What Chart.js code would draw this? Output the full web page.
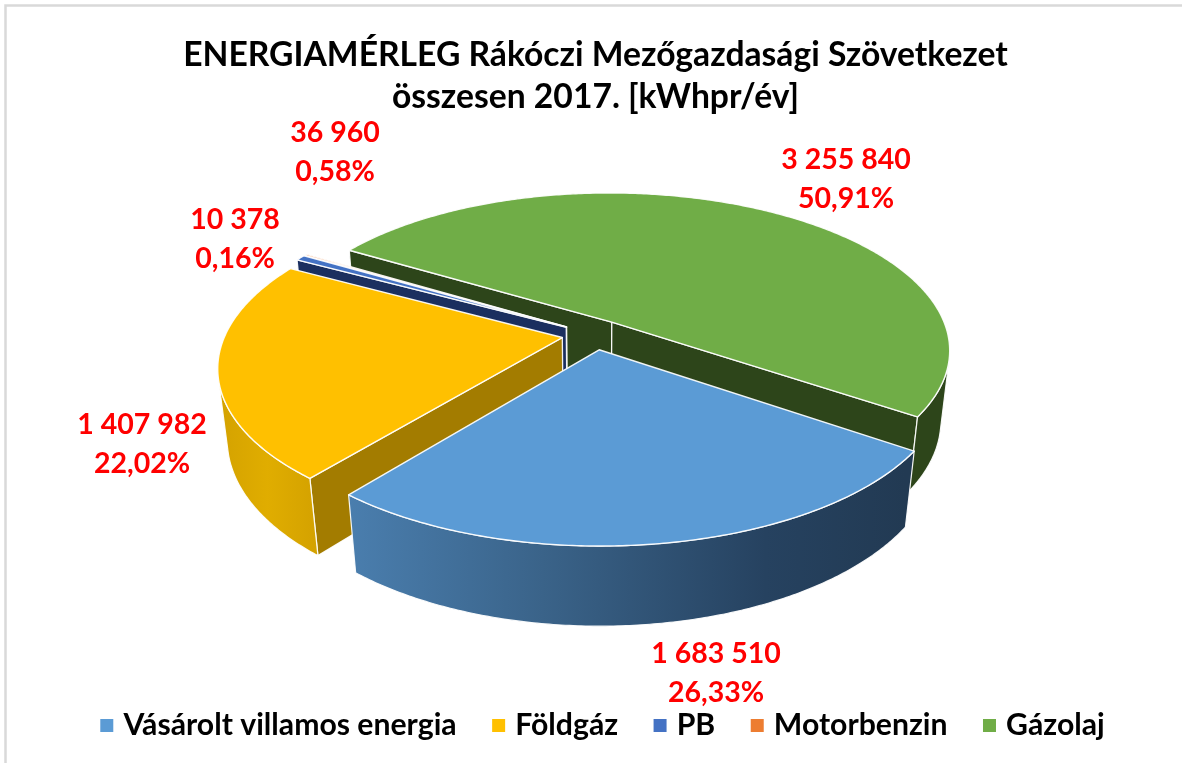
<!DOCTYPE html>
<html><head><meta charset="utf-8">
<style>html,body{margin:0;padding:0;background:#fff}#wrap{width:1182px;height:763px}</style>
<script src="https://cdn.jsdelivr.net/npm/chart.js@4"></script>
</head><body><div id="wrap"><canvas id="c" width="1182" height="763"></canvas></div>
<script>
const categories = ['Vásárolt villamos energia','Földgáz','PB','Motorbenzin','Gázolaj'];
const values = [1683510,1407982,36960,10378,3255840];
const percentLabels = ['26,33%','22,02%','0,58%','0,16%','50,91%'];
const titleLines = ['ENERGIAMÉRLEG Rákóczi Mezőgazdasági Szövetkezet','összesen 2017. [kWhpr/év]'];
const topColors = ['#5b9bd5','#ffc000','#4472c4','#ed7d31','#70ad47'];
const cutColors = ['#274059','#a37c00','#1b2f5f','#8f4b1d','#2d451a'];
const labelSpots = [[716,654],[142,425],[335,133],[235,220],[846,160]];

const view = {cx:594.4, cy:334.6, R:337, H:155.85, p:0.1755, q:0.025, D:72};
function proj(u,v,z){
  const w = 1 - view.p*v + view.q*z;
  return [view.cx + view.R*u/w, view.cy + (view.H*v + view.D*z)/w];
}
function sliceGeom(el){
  const mid=(el.startAngle+el.endAngle)/2, e=(el.options.offset||0)/el.outerRadius;
  const ox=Math.cos(mid)*e, oy=Math.sin(mid)*e;
  const arc=(z,a0,a1)=>{const n=Math.max(2,Math.ceil(Math.abs(a1-a0)/0.01)),o=[];
    for(let i=0;i<=n;i++){const t=a0+(a1-a0)*i/n;o.push(proj(ox+Math.cos(t),oy+Math.sin(t),z));}return o;};
  return {ox,oy,mid,arc,apexT:proj(ox,oy,0),apexB:proj(ox,oy,1)};
}
function poly(ctx,pts,fill,stroke,lw){
  ctx.beginPath();pts.forEach((p,i)=>i?ctx.lineTo(p[0],p[1]):ctx.moveTo(p[0],p[1]));ctx.closePath();
  ctx.fillStyle=fill;ctx.fill();
  if(stroke){ctx.strokeStyle=stroke;ctx.lineWidth=lw;ctx.lineJoin='round';ctx.stroke();}
}
function side(a,b,p){return (b[0]-a[0])*(p[1]-a[1])-(b[1]-a[1])*(p[0]-a[0]);}
function wallFill(ctx,i){
  if(i===0){const g=ctx.createLinearGradient(348,0,905,0);
    g.addColorStop(0,'#4a7eae');g.addColorStop(0.35,'#3a6389');g.addColorStop(0.75,'#264260');g.addColorStop(1,'#223a53');return g;}
  if(i===1){const g=ctx.createLinearGradient(219,0,316,0);
    g.addColorStop(0,'#d4a200');g.addColorStop(0.5,'#e0ad00');g.addColorStop(1,'#d4a200');return g;}
  return cutColors[i];
}
const pie3d = {
  id:'pie3d',
  afterLayout(chart){ chart.legend.left+=9.5; chart.legend.right+=9.5; },
  beforeDraw(chart){
    const c=chart.ctx;c.save();c.strokeStyle='#d9d9d9';c.lineWidth=2.5;
    c.beginPath();c.moveTo(1182,5.5);c.lineTo(5.5,5.5);c.lineTo(5.5,763);c.stroke();c.restore();
  },
  beforeDatasetsDraw(chart){
    const c=chart.ctx, els=chart.getDatasetMeta(0).data;
    c.save();
    [4,3,2,1,0].forEach(i=>{
      const el=els[i], g=sliceGeom(el), a0=el.startAngle, a1=el.endAngle;
      const topArc=g.arc(0,a0,a1), botArc=g.arc(1,a0,a1);
      const white='rgba(255,255,255,0.92)';
      const inner=proj(g.ox+Math.cos(g.mid)*0.5,g.oy+Math.sin(g.mid)*0.5,0);
      [[topArc[0],botArc[0]],[topArc[topArc.length-1],botArc[botArc.length-1]]].forEach(([t,b])=>{
        const visible=side(g.apexT,t,inner)*side(g.apexT,t,g.apexB)<0;
        if(visible) poly(c,[g.apexT,t,b,g.apexB],cutColors[i],white,1.3);
      });
      // outer wall: only the part of the rim that faces the viewer
      const wt=[],wb=[];
      for(let k=0;k<topArc.length;k++){
        const n=topArc[Math.min(k+1,topArc.length-1)], m=topArc[Math.max(k-1,0)];
        const tx=n[0]-m[0], ty=n[1]-m[1], ex=botArc[k][0]-topArc[k][0], ey=botArc[k][1]-topArc[k][1];
        if(tx*ey-ty*ex<0){wt.push(topArc[k]);wb.push(botArc[k]);}
      }
      if(wt.length>1) poly(c,wt.concat(wb.reverse()),wallFill(c,i),white,1.2);
      poly(c,[g.apexT].concat(topArc),topColors[i],white,1.4);
    });
    c.restore();
    return false;
  },
  afterDraw(chart){
    const c=chart.ctx;c.save();
    c.font='bold 28.5px Lato, Carlito, sans-serif';c.fillStyle='#ff0000';c.textAlign='center';c.textBaseline='middle';
    values.forEach((v,i)=>{
      const txt=String(v).replace(/\B(?=(\d{3})+$)/g,' ');
      c.fillText(txt,labelSpots[i][0],labelSpots[i][1]);
      c.fillText(percentLabels[i],labelSpots[i][0],labelSpots[i][1]+38.5);
    });
    c.restore();
  }
};
new Chart(document.getElementById('c'),{
  type:'pie',
  data:{labels:categories,datasets:[{data:values,backgroundColor:topColors,offset:25,borderWidth:0}]},
  plugins:[pie3d],
  options:{
    responsive:false,animation:false,rotation:124.4,
    layout:{padding:{left:9,right:0,top:22,bottom:12.5}},
    plugins:{
      tooltip:{enabled:false},
      title:{display:true,text:titleLines,color:'#000',font:{family:'Lato, Carlito, sans-serif',size:33.65,weight:'bold',lineHeight:1.25},padding:{top:12,bottom:10}},
      legend:{position:'bottom',labels:{color:'#000',font:{family:'Lato, Carlito, sans-serif',size:30.2,weight:'bold'},usePointStyle:true,pointStyle:'rect',boxWidth:3,boxHeight:13,padding:40.5}}
    }
  }
});
</script></body></html>
